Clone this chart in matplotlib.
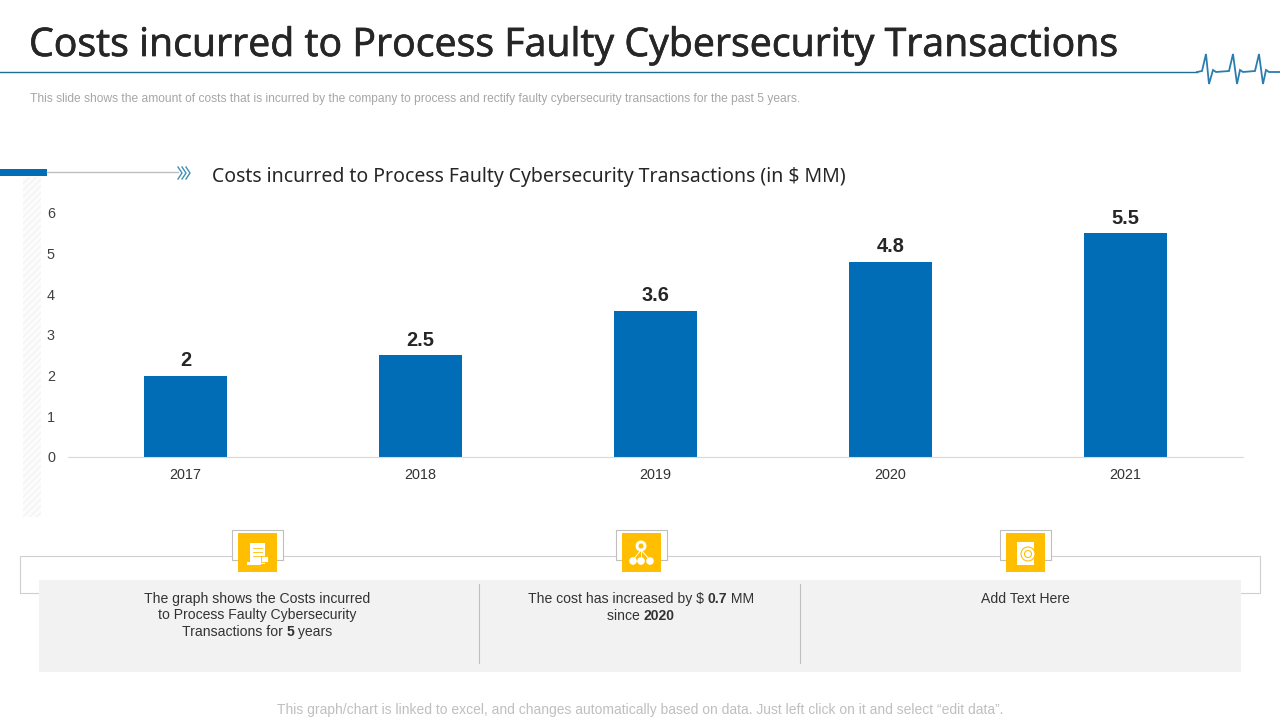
import matplotlib
matplotlib.use("Agg")
import matplotlib.pyplot as plt
import matplotlib.patches as patches
import matplotlib.patheffects as pe
import numpy as np

# Data
years = ["2017", "2018", "2019", "2020", "2021"]
costs = [2, 2.5, 3.6, 4.8, 5.5]
cost_labels = ["2", "2.5", "3.6", "4.8", "5.5"]
y_ticks = [0, 1, 2, 3, 4, 5, 6]

title = "Costs incurred to Process Faulty Cybersecurity Transactions"
subtitle = ("This slide shows the amount of costs that is incurred by the company to process "
            "and rectify faulty cybersecurity transactions for the past 5 years.")
chart_title = "Costs incurred to Process Faulty Cybersecurity Transactions (in \\$ MM)"
footer = ("This graph/chart is linked to excel, and changes automatically based on data. "
          "Just left click on it and select \u201cedit data\u201d.")

# each box is a list of lines, each line a list of (text, bold) runs
box1 = [[("The graph shows the Costs incurred", False)],
        [("to Process Faulty Cybersecurity", False)],
        [("Transactions for ", False), ("5", True), (" years", False)]]
box2 = [[("The cost has increased by $ ", False), ("0.7", True), (" MM", False)],
        [("since ", False), ("2020", True)]]
box3 = [[("Add Text Here", False)]]

# Styles
BLUE = "#006DB6"
YELLOW = "#FFBF00"
DARK = "#262626"
BODY = "Liberation Sans"
W, H = 1280, 720

fig = plt.figure(figsize=(12.8, 7.2), dpi=100, facecolor="white")

# overlay in pixel coordinates for the slide furniture
bg = fig.add_axes([0, 0, 1, 1])
bg.set_xlim(0, W)
bg.set_ylim(H, 0)
bg.set_axis_off()


def runs_line(cx, y, runs, size=10.05, color="#333333"):
    """Centre a line of mixed regular and bold text on cx, y is the baseline."""
    r = fig.canvas.get_renderer()
    items = []
    for txt, bold in runs:
        t = bg.text(0, y, txt.replace("$", "\\$"), fontsize=size, family=BODY, color=color,
                    fontweight="bold" if bold else "normal", va="baseline", ha="left")
        items.append((t, t.get_window_extent(r).width))
    x = cx - sum(w for _, w in items) / 2
    for t, w in items:
        t.set_x(x)
        x += w


# Header
title_txt = bg.text(29, 46, title, fontsize=28.3, family="Open Sans", color=DARK, va="center", ha="left")
title_txt.set_path_effects([pe.withStroke(linewidth=0.5, foreground=DARK)])
bg.plot([0, 1197], [72, 72], color="#1F6E96", lw=1)
ecg_x = [1197, 1202, 1206, 1209, 1213, 1216, 1229, 1233, 1237, 1240, 1243, 1255, 1259, 1263, 1266, 1269, 1280]
ecg_y = [72, 71, 54, 84, 70, 72, 71, 54, 84, 70, 72, 71, 54, 84, 70, 72, 72]
bg.plot(ecg_x, ecg_y, color="#2A7DAE", lw=1.3, solid_joinstyle="miter")
bg.text(30, 99, subtitle, fontsize=8.64, family=BODY, color="#A6A6A6", va="center", ha="left")

# Chart heading with rule and chevrons
bg.plot([47, 178], [172, 172], color="#BFBFBF", lw=1)
bg.add_patch(patches.Rectangle((0, 169), 47, 7, fc=BLUE, ec="none"))
for cx in [178, 182, 186]:
    bg.plot([cx, cx + 4, cx], [167, 173, 179], color="#3F8FB5", lw=1)
bg.text(212, 177, chart_title, fontsize=14.0, family="Noto Sans", color=DARK, va="center", ha="left")

# Hatched strip left of the y axis
plt.rcParams["hatch.linewidth"] = 0.6
bg.add_patch(patches.Rectangle((23, 177), 18, 340, fc="#FCFCFC", ec="#EFEFEF", lw=0, hatch="/////"))

# Lower panel
bg.add_patch(patches.Rectangle((20, 556), 1240, 37, fc="white", ec="#CFCFCF", lw=0.8))
bg.add_patch(patches.Rectangle((39, 580), 1202, 92, fc="#F2F2F2", ec="none"))
for x in [479, 800]:
    bg.plot([x, x], [584, 663], color="#BFBFBF", lw=0.8)

for cx, left in [(258, 232), (642, 616), (1026, 1000)]:
    bg.add_patch(patches.Rectangle((left, 530), 51, 30, fc="white", ec="#BFBFBF", lw=0.8))
    bg.add_patch(patches.Rectangle((cx - 20, 533), 39, 39, fc=YELLOW, ec="none"))

# Icon 1: scroll
bg.add_patch(patches.Rectangle((250, 543), 15, 21, fc="white", ec="none"))
bg.add_patch(patches.Rectangle((247, 562), 14, 3, fc="white", ec="none"))
bg.add_patch(patches.Rectangle((261, 556), 7, 6, fc="white", ec=YELLOW, lw=0.6))
for yy in [548, 552, 556]:
    bg.plot([253, 262], [yy, yy], color=YELLOW, lw=0.6)
# Icon 2: hub with three nodes
bg.add_patch(patches.Circle((641, 546), 5.5, fc="white", ec="none"))
bg.add_patch(patches.Circle((641, 546), 2.5, fc=YELLOW, ec="none"))
for nx in [633, 641, 650]:
    bg.plot([641, nx], [550, 560], color="white", lw=0.7)
    bg.add_patch(patches.Circle((nx, 561), 3.8, fc="white", ec="none"))
# Icon 3: document with seal
bg.add_patch(patches.Rectangle((1017, 542), 17, 23, fc="white", ec="none"))
bg.add_patch(patches.Circle((1028, 554), 7, fc="white", ec=YELLOW, lw=0.8))
bg.add_patch(patches.Circle((1028, 554), 3.5, fc="white", ec=YELLOW, lw=0.8))

# Box texts
for cx, lines in [(257, box1), (641, box2), (1025, box3)]:
    for i, line in enumerate(lines):
        runs_line(cx, 603 + i * 16.5, line)

bg.text(640, 710, footer, fontsize=10.0, family=BODY, color="#BFBFBF", va="center", ha="center")

# Bar chart, placed so y=0 sits at 457 px and y=6 at 213 px
ax = fig.add_axes([68.1 / W, 1 - 457 / H, 1175 / W, 244 / H])
ax.patch.set_alpha(0)
x = np.arange(len(years))
bars = ax.bar(x, costs, width=0.355, color=BLUE)
ax.set_xlim(-0.5, 4.5)
ax.set_ylim(0, 6)
ax.set_xticks(x)
ax.set_xticklabels(years, fontsize=10.4, family=BODY, color="#333333")
ax.set_yticks(y_ticks)
ax.set_yticklabels([str(v) for v in y_ticks], fontsize=10.4, family=BODY, color="#404040")
ax.tick_params(axis="both", length=0)
ax.tick_params(axis="x", pad=8)
ax.tick_params(axis="y", pad=9.5)
for s in ["top", "left", "right"]:
    ax.spines[s].set_visible(False)
ax.spines["bottom"].set_color("#D9D9D9")
for b, lab in zip(bars, cost_labels):
    ax.annotate(lab, (b.get_x() + b.get_width() / 2, b.get_height()), xytext=(0, 4),
                textcoords="offset points", ha="center", va="bottom", fontsize=14.4,
                family=BODY, fontweight="bold", color=DARK)

fig.savefig("out.png", dpi=100)
